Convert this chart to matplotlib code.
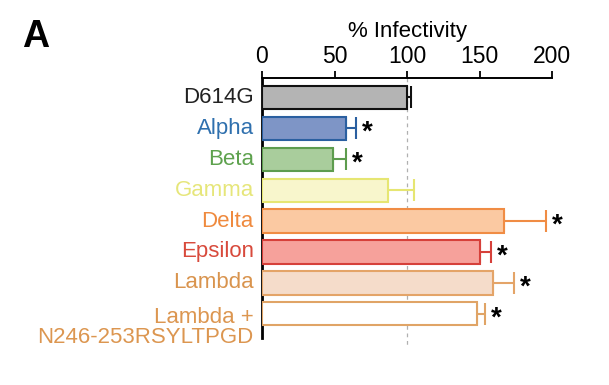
import numpy as np
import matplotlib.pyplot as plt

plt.rcParams['font.family'] = ['Liberation Sans', 'DejaVu Sans']

# data
variants = ["D614G", "Alpha", "Beta", "Gamma", "Delta", "Epsilon", "Lambda",
            "Lambda +\nN246-253RSYLTPGD"]
infectivity = [100, 58, 49, 87, 167, 150, 159, 148]
error = [3, 7, 9, 18, 29, 8, 15, 6]
significant = [False, True, True, False, True, True, True, True]

face_colors = ["#b4b4b4", "#7e95c6", "#a9cd9c", "#f8f6cc", "#fbc9a2",
               "#f6a19b", "#f5dcca", "#ffffff"]
edge_colors = ["#111111", "#2a5fa0", "#5d9c4e", "#e6e672", "#f08c44",
               "#d6403a", "#e4a468", "#e0a466"]
label_colors = ["#222222", "#2f70ae", "#5ea24e", "#e6e67a", "#ef8a3e",
                "#d84a3c", "#d9944e", "#dc9650"]

fig = plt.figure(figsize=(6.09, 3.85), dpi=100)
ax = fig.add_axes([262 / 609, 0.122, 290 / 609, 0.676])

y = np.arange(len(variants))
for i in range(len(variants)):
    ax.barh(y[i], infectivity[i], height=0.75, color=face_colors[i],
            edgecolor=edge_colors[i], linewidth=1.5, zorder=3)
    ax.errorbar(infectivity[i], y[i], xerr=[[0], [error[i]]], fmt='none',
                ecolor=edge_colors[i], elinewidth=1.5, capsize=8, capthick=1.5,
                zorder=2)
    if significant[i]:
        ax.text(infectivity[i] + error[i] + 4, y[i] + 0.15, "*",
                fontsize=20, fontweight='bold', va='center', ha='left')

    # category labels, drawn left of the axis
    if "\n" in variants[i]:
        ax.annotate(variants[i], xy=(0, y[i]), xycoords=('axes fraction', 'data'),
                    xytext=(-6, 5), textcoords='offset points', ha='right',
                    va='top', fontsize=16, color=label_colors[i],
                    linespacing=0.95, multialignment='right')
    else:
        ax.annotate(variants[i], xy=(0, y[i]), xycoords=('axes fraction', 'data'),
                    xytext=(-6, 0), textcoords='offset points', ha='right',
                    va='center', fontsize=16, color=label_colors[i])

# reference line at 100%
ax.plot([100, 100], [-0.63, 8.07], color="#b0b0b0", linestyle=(0, (3, 3)),
        linewidth=0.9, clip_on=False, zorder=1)

ax.set_xlim(0, 200)
ax.set_ylim(7.78, -0.63)
ax.set_xticks([0, 50, 100, 150, 200])
ax.xaxis.tick_top()
ax.xaxis.set_label_position('top')
ax.set_xlabel("% Infectivity", fontsize=16, labelpad=6)
ax.tick_params(axis='x', labelsize=16.5, length=5, width=1.3, pad=2)
ax.set_yticks([])

ax.spines['right'].set_visible(False)
ax.spines['bottom'].set_visible(False)
ax.spines['top'].set_linewidth(1.4)
ax.spines['left'].set_linewidth(2)

fig.text(22 / 609, 1 - 37 / 385, "A", fontsize=27, fontweight='bold',
         va='center', ha='left')

plt.savefig("out.png", dpi=100)
